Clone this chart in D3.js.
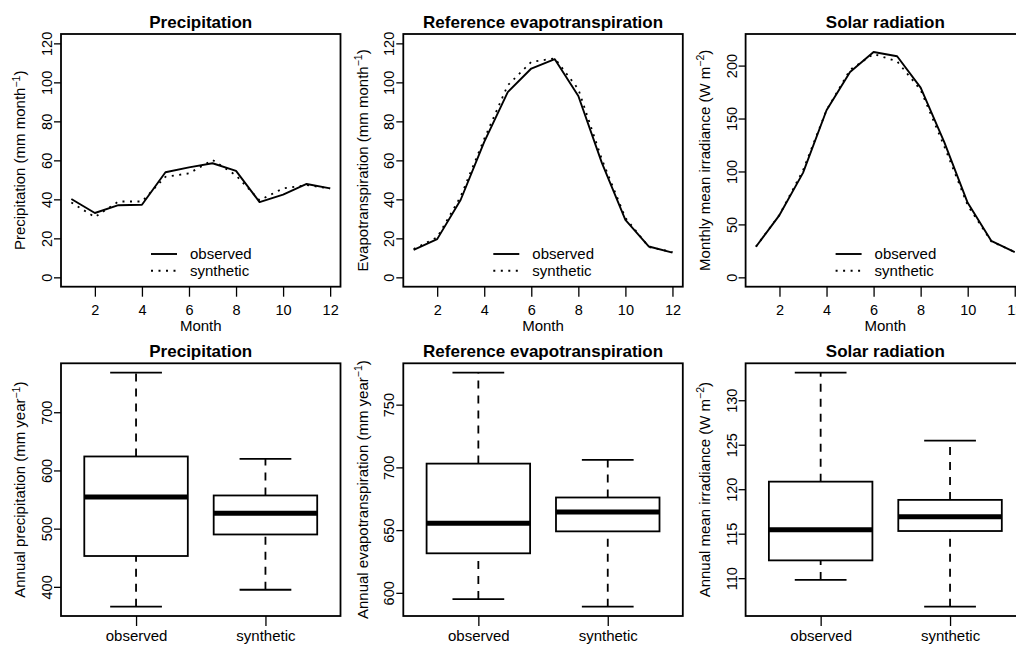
<!DOCTYPE html>
<html>
<head>
<meta charset="utf-8">
<script src="https://cdn.jsdelivr.net/npm/d3@7"></script>
<style>
  body { margin: 0; background: #fff; }
  svg { display: block; font-family: "Liberation Sans", Arial, Helvetica, sans-serif; }
</style>
</head>
<body>
<div id="my_dataviz"></div>
<script>
// monthly means
var months = [1, 2, 3, 4, 5, 6, 7, 8, 9, 10, 11, 12];
var monthTicks = [2, 4, 6, 8, 10, 12];

var precipObserved  = [40.2, 33.0, 37.0, 37.2, 53.9, 56.4, 58.5, 54.6, 38.6, 42.4, 47.9, 45.6];
var precipSynthetic = [38.4, 30.9, 38.9, 38.9, 51.6, 53.3, 60.2, 52.3, 39.5, 45.6, 47.3, 45.6];

var etObserved  = [14.1, 19.6, 39.8, 69.5, 95.0, 107.1, 111.9, 93.0, 58.7, 29.5, 15.8, 12.7];
var etSynthetic = [14.5, 20.5, 41.5, 71.0, 98.5, 110.5, 112.3, 96.5, 60.5, 30.5, 15.5, 13.0];

var solarObserved  = [28.9, 58.8, 98.7, 157.8, 194.0, 212.8, 208.8, 179.2, 127.9, 70.4, 34.5, 23.9];
var solarSynthetic = [29.0, 59.0, 101.0, 158.0, 196.0, 211.0, 204.0, 177.0, 124.0, 68.0, 34.0, 24.0];

// annual totals: [min, Q1, median, Q3, max]
var groups = ["observed", "synthetic"];
var precipAnnual = [[366, 453, 554.5, 624, 768], [395, 490, 526.5, 557, 620]];
var etAnnual     = [[595, 631.5, 655.5, 703, 775.5], [589, 649, 664.5, 676, 706]];
var solarAnnual  = [[109.8, 112.0, 115.45, 120.85, 133.1], [106.8, 115.3, 116.9, 118.8, 125.45]];

var precipTicks = [0, 20, 40, 60, 80, 100, 120];
var etTicks = [0, 20, 40, 60, 80, 100, 120];
var solarTicks = [0, 50, 100, 150, 200];
var precipAnnualTicks = [400, 500, 600, 700];
var etAnnualTicks = [600, 650, 700, 750];
var solarAnnualTicks = [110, 115, 120, 125, 130];

var W = 1016, H = 646;
var colLeft = [61, 403.3, 745.6], rowTop = [34, 363.3];
var plotW = 279.5, plotH = 252.7;

var svg = d3.select("#my_dataviz").append("svg")
    .attr("width", W)
    .attr("height", H);
svg.append("rect").attr("width", W).attr("height", H).attr("fill", "#fff");

function panel(col, row) {
    return svg.append("g").attr("transform", "translate(" + colLeft[col] + "," + rowTop[row] + ")");
}

// R style: pad the range by 4% on each side
function padded(lo, hi) {
    var r = hi - lo;
    return [lo - 0.04 * r, hi + 0.04 * r];
}

function appendFrame(g) {
    g.append("rect")
        .attr("width", plotW).attr("height", plotH)
        .attr("fill", "none").attr("stroke", "#000").attr("stroke-width", 1.8);
}

function appendTitle(g, title) {
    g.append("text")
        .attr("x", plotW / 2).attr("y", -6)
        .attr("text-anchor", "middle")
        .style("font-size", "17px").style("font-weight", "bold")
        .text(title);
}

function appendYlabel(g, lab) {
    var t = g.append("text")
        .attr("transform", "translate(-41," + (plotH / 2) + ") rotate(-90)")
        .attr("text-anchor", "middle")
        .attr("dy", "0.35em")
        .style("font-size", "15px");
    t.append("tspan").text(lab[0]);
    t.append("tspan").attr("dy", -5.5).style("font-size", "10.5px").text(lab[1]);
    t.append("tspan").attr("dy", 5.5).text(lab[2]);
}

function appendYaxis(g, y, ticks) {
    var ax = g.append("g")
        .call(d3.axisLeft(y).tickValues(ticks).tickSize(7).tickFormat(d3.format("d")));
    ax.attr("font-size", null).attr("font-family", null);
    ax.select(".domain").remove();
    ax.selectAll("line").attr("stroke", "#000").attr("stroke-width", 1.3);
    ax.selectAll("text")
        .attr("x", null).attr("dy", null)
        .attr("text-anchor", "middle")
        .attr("transform", "translate(-9,0) rotate(-90)")
        .attr("fill", "#000")
        .style("font-size", "14.5px");
}

function appendXaxis(g, x, ticks, fmt, labelY, size) {
    var ax = g.append("g")
        .attr("transform", "translate(0," + plotH + ")")
        .call(d3.axisBottom(x).tickValues(ticks).tickSize(10).tickFormat(fmt));
    ax.attr("font-size", null).attr("font-family", null);
    ax.select(".domain").remove();
    ax.selectAll("line").attr("stroke", "#000").attr("stroke-width", 1.3);
    ax.selectAll("text")
        .attr("y", labelY).attr("dy", null)
        .attr("fill", "#000")
        .style("font-size", size);
}

function drawMonthly(col, title, ylab, obs, syn, ylim, ticks) {
    var g = panel(col, 0);
    var x = d3.scaleLinear().domain(padded(1, 12)).range([0, plotW]);
    var y = d3.scaleLinear().domain(padded(ylim[0], ylim[1])).range([plotH, 0]);

    var line = d3.line()
        .x(function(d, i) { return x(months[i]); })
        .y(function(d) { return y(d); });

    g.append("path").datum(syn)
        .attr("d", line).attr("fill", "none")
        .attr("stroke", "#000").attr("stroke-width", 1.8)
        .attr("stroke-dasharray", "2,5.5");
    g.append("path").datum(obs)
        .attr("d", line).attr("fill", "none")
        .attr("stroke", "#000").attr("stroke-width", 1.9)
        .attr("stroke-linejoin", "round");

    // legend, bottom centre, no box
    var leg = [["observed", null], ["synthetic", "2,5.5"]];
    leg.forEach(function(l, i) {
        var ly = plotH - 32.7 + i * 16.7;
        g.append("line")
            .attr("x1", 90).attr("x2", 116).attr("y1", ly).attr("y2", ly)
            .attr("stroke", "#000").attr("stroke-width", 1.9)
            .attr("stroke-dasharray", l[1]);
        g.append("text")
            .attr("x", 129).attr("y", ly).attr("dy", "0.35em")
            .style("font-size", "15px").text(l[0]);
    });

    appendFrame(g);
    appendYaxis(g, y, ticks);
    appendXaxis(g, x, monthTicks, d3.format("d"), 28, "14.5px");
    g.append("text")
        .attr("x", plotW / 2).attr("y", plotH + 44.5)
        .attr("text-anchor", "middle")
        .style("font-size", "15px").text("Month");
    appendTitle(g, title);
    appendYlabel(g, ylab);
}

function drawBoxes(col, title, ylab, stats, ticks) {
    var g = panel(col, 1);
    var all = [].concat.apply([], stats);
    var x = d3.scaleLinear().domain(padded(0.5, groups.length + 0.5)).range([0, plotW]);
    var y = d3.scaleLinear().domain(padded(d3.min(all), d3.max(all))).range([plotH, 0]);

    stats.forEach(function(s, i) {
        var c = i + 1;
        // whiskers
        [[s[0], s[1]], [s[3], s[4]]].forEach(function(w) {
            g.append("line")
                .attr("x1", x(c)).attr("x2", x(c))
                .attr("y1", y(w[0])).attr("y2", y(w[1]))
                .attr("stroke", "#000").attr("stroke-width", 1.8)
                .attr("stroke-dasharray", "8,7");
        });
        // staples
        [s[0], s[4]].forEach(function(v) {
            g.append("line")
                .attr("x1", x(c - 0.2)).attr("x2", x(c + 0.2))
                .attr("y1", y(v)).attr("y2", y(v))
                .attr("stroke", "#000").attr("stroke-width", 1.8);
        });
        g.append("rect")
            .attr("x", x(c - 0.4)).attr("width", x(c + 0.4) - x(c - 0.4))
            .attr("y", y(s[3])).attr("height", y(s[1]) - y(s[3]))
            .attr("fill", "#fff").attr("stroke", "#000").attr("stroke-width", 1.8);
        g.append("line")
            .attr("x1", x(c - 0.4)).attr("x2", x(c + 0.4))
            .attr("y1", y(s[2])).attr("y2", y(s[2]))
            .attr("stroke", "#000").attr("stroke-width", 5);
    });

    appendFrame(g);
    appendYaxis(g, y, ticks);
    appendXaxis(g, x, [1, 2], function(d) { return groups[d - 1]; }, 25, "15px");
    appendTitle(g, title);
    appendYlabel(g, ylab);
}

drawMonthly(0, "Precipitation", ["Precipitation (mm month", "\u22121", ")"],
    precipObserved, precipSynthetic, [0, 120], precipTicks);
drawMonthly(1, "Reference evapotranspiration", ["Evapotranspiration (mm month", "\u22121", ")"],
    etObserved, etSynthetic, [0, 120], etTicks);
drawMonthly(2, "Solar radiation", ["Monthly mean irradiance (W m", "\u22122", ")"],
    solarObserved, solarSynthetic, [0, 221], solarTicks);

drawBoxes(0, "Precipitation", ["Annual precipitation (mm year", "\u22121", ")"],
    precipAnnual, precipAnnualTicks);
drawBoxes(1, "Reference evapotranspiration", ["Annual evapotranspiration (mm year", "\u22121", ")"],
    etAnnual, etAnnualTicks);
drawBoxes(2, "Solar radiation", ["Annual mean irradiance (W m", "\u22122", ")"],
    solarAnnual, solarAnnualTicks);
</script>
</body>
</html>
